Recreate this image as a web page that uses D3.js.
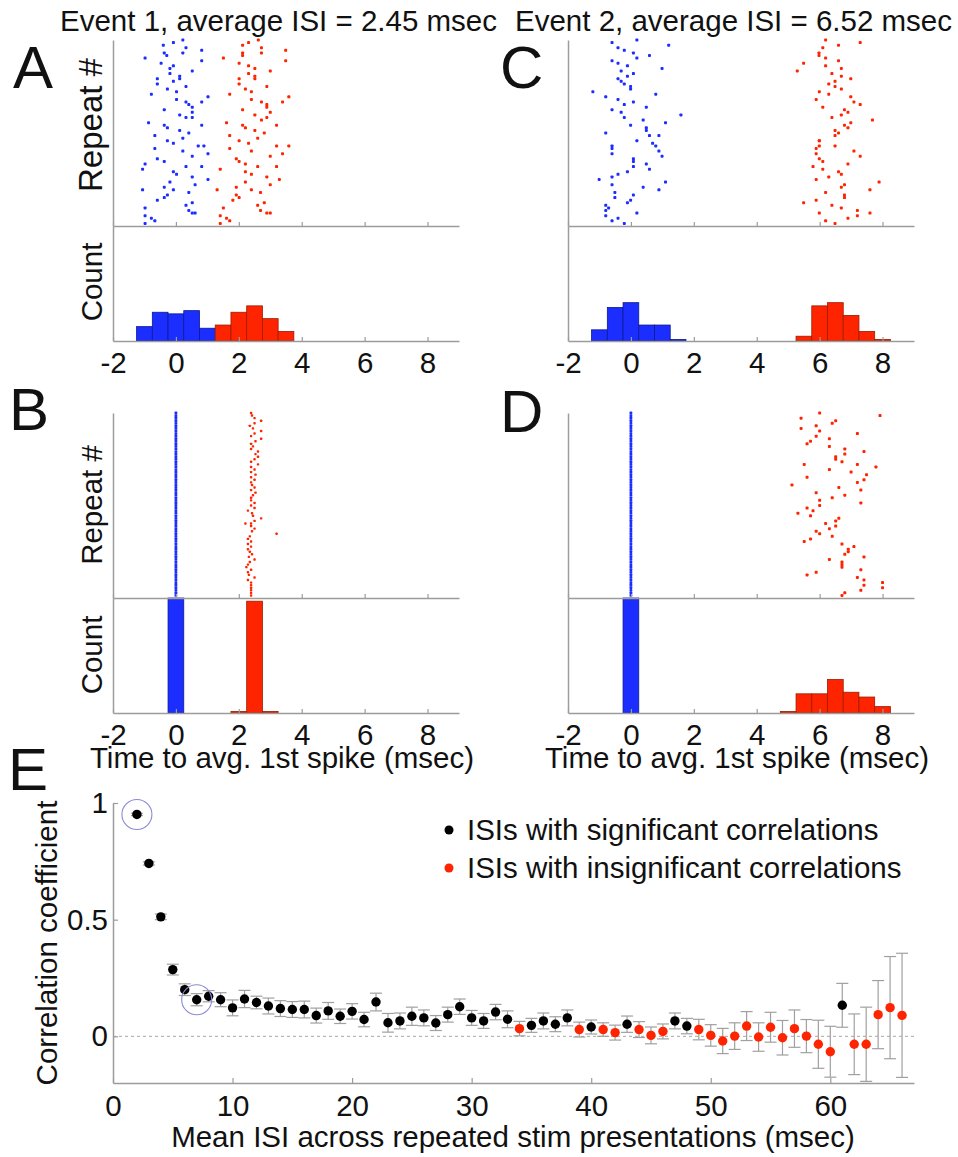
<!DOCTYPE html>
<html><head><meta charset="utf-8">
<script src="https://cdn.jsdelivr.net/npm/d3@7"></script>
<style>body{margin:0;background:#fff}svg{display:block}</style>
</head><body>
<svg id="fig" width="958" height="1157"></svg>
<script>
// ---------------- DATA ----------------
const timeDomain = [-2, 9];
const timeTicks = [-2, 0, 2, 4, 6, 8];
const nRepeats = 72;
const binWidth = 0.5;
const titles = ["Event 1, average ISI = 2.45 msec", "Event 2, average ISI = 6.52 msec"];

// raster points: [time to avg. 1st spike (ms), repeat #]
const rasterA_blue = [[-0.40,2],[-0.08,1],[0.22,0],[0.32,3],[0.82,4],[0.22,5],[-0.37,5],[-0.29,6],
[-0.98,7],[0.82,8],[-0.47,9],[-0.08,10],[-0.19,11],[0.52,12],[-0.19,13],[0.12,14],[0.12,15],[-0.59,15],
[-0.08,16],[-0.59,17],[0.32,18],[-0.27,19],[0.02,20],[-0.78,21],[1.02,22],[0.02,23],[0.82,24],[0.32,24],
[0.41,25],[0.52,26],[-0.37,27],[0.52,28],[0.12,29],[0.32,30],[0.52,30],[-0.87,32],[-0.37,33],[0.82,33],
[-0.27,34],[0.12,35],[0.41,36],[-0.67,37],[0.22,38],[-0.27,39],[-0.08,40],[0.71,41],[0.89,41],[-0.67,42],
[0.22,43],[1.02,44],[0.52,45],[-0.59,46],[-0.37,47],[-0.98,48],[0.82,49],[0.32,49],[-1.06,50],[-0.08,51],
[0.02,52],[0.52,53],[1.02,54],[-0.19,55],[0.61,56],[-0.37,57],[-0.08,58],[-1.06,58],[0.41,59],[-0.27,60],
[-0.37,61],[-0.59,62],[0.52,63],[0.32,64],[-0.98,65],[0.41,66],[0.52,67],[0.61,67],[-0.98,68],[-0.78,69],
[-0.67,70],[-0.98,71]];
const rasterA_red = [[2.31,1],[2.62,0],[2.12,2],[2.72,3],[3.49,4],[2.72,5],[2.12,5],[2.12,6],[1.51,7],[3.49,8],[2.01,9],[2.31,10],
[2.51,11],[3.00,12],[2.31,13],[2.51,14],[2.51,15],[2.01,15],[2.01,17],[2.89,18],[2.21,19],[2.40,20],[1.71,21],
[3.59,22],[2.40,23],[3.39,24],[2.72,24],[2.89,25],[2.89,26],[2.12,27],[3.00,28],[2.51,29],[2.89,30],[2.72,31],
[1.61,32],[2.12,33],[3.20,33],[2.21,34],[2.51,35],[2.81,36],[1.71,37],[2.60,38],[2.01,39],[2.31,40],[3.20,41],
[3.59,41],[1.71,42],[2.40,43],[3.39,44],[3.00,45],[1.92,46],[2.01,47],[2.21,48],[3.20,49],[2.60,49],[1.41,50],
[2.21,51],[2.40,52],[2.89,53],[3.29,54],[2.21,55],[3.00,56],[1.92,57],[2.40,58],[1.31,58],[2.69,59],[1.92,60],
[2.01,61],[1.81,62],[2.81,63],[2.60,64],[1.51,65],[2.69,66],[2.89,67],[3.00,67],[1.41,68],[1.61,69],[1.71,70],[1.41,71]];

const rasterC_blue = [[-0.60,1],[0.19,0],[1.20,2],[-0.41,3],[-0.21,4],[0.08,5],[0.59,6],[0.19,7],[-0.60,8],[-0.41,9],[-0.11,10],[0.99,11],
[-0.31,12],[0.08,13],[-0.11,14],[-0.41,15],[-0.31,16],[-0.21,17],[-0.01,18],[-0.01,19],[-1.21,20],[0.79,21],
[-0.80,22],[-0.41,23],[0.08,24],[-0.21,25],[0.49,26],[-0.60,27],[-0.31,28],[1.59,29],[-0.21,30],[0.39,31],
[1.10,32],[-0.01,33],[0.49,34],[0.49,35],[-0.80,36],[0.59,37],[0.89,37],[0.19,39],[0.69,40],[0.79,41],
[-0.60,41],[-0.60,42],[0.89,43],[-0.60,44],[0.99,45],[0.08,46],[0.08,47],[0.49,48],[0.08,49],[0.59,50],
[-0.11,51],[-0.41,52],[-0.60,53],[-1.01,54],[1.10,55],[-0.60,56],[0.39,57],[0.89,58],[-0.51,59],[0.08,60],
[-0.51,61],[-0.01,62],[-0.11,63],[-0.80,64],[-0.71,65],[-0.80,66],[0.19,67],[-0.80,68],[-0.41,69],[-0.60,70],[-0.21,71]];
const rasterC_red = [[6.19,0],[7.29,1],[6.60,2],[6.10,3],[5.98,5],[5.98,6],[6.19,7],[6.60,8],[5.49,9],[6.19,10],[6.69,11],[5.29,12],
[6.39,13],[6.69,14],[6.99,15],[6.49,16],[6.29,17],[6.49,18],[6.69,19],[5.99,20],[6.29,21],[6.99,22],[5.89,23],
[7.09,24],[7.29,25],[6.10,26],[6.79,27],[6.90,28],[6.69,29],[6.39,30],[7.68,31],[6.99,32],[6.79,33],[6.90,34],
[6.49,35],[6.60,36],[6.49,37],[5.99,39],[5.99,39],[6.49,41],[5.99,41],[5.89,42],[7.09,43],[5.89,44],[7.29,45],
[5.99,46],[6.10,47],[6.90,48],[5.79,49],[6.10,50],[6.60,51],[6.69,52],[6.29,53],[5.89,54],[7.89,55],[6.79,56],
[6.69,57],[7.60,58],[6.19,59],[6.79,60],[6.79,61],[5.89,62],[5.49,63],[6.39,64],[6.69,65],[7.20,66],[5.99,67],
[7.60,67],[7.20,68],[6.90,69],[6.19,70],[6.49,71]];

// B and D: first spike aligned exactly (one value per repeat)
const rasterB_blueTimes = [0,0,0,0,0,0,0,0,0,0,0,0,0,0,0,0,0,0,0,0,0,0,0,0,0,0,0,0,0,0,0,0,0,0,0,0,
0,0,0,0,0,0,0,0,0,0,0,0,0,0,0,0,0,0,0,0,0,0,0,0,0,0,0,0,0,0,0,0,0,0,0,0];
const rasterB_red = [[2.39,0],[2.42,1],[2.50,2],[2.71,3],[2.50,4],[2.35,5],[2.45,6],[2.71,7],[2.50,8],[2.39,9],[2.71,10],[2.53,11],
[2.39,12],[2.45,13],[2.39,14],[2.61,15],[2.53,16],[2.61,17],[2.50,18],[2.39,19],[2.61,20],[2.39,21],[2.50,22],[2.39,23],
[2.53,24],[2.39,25],[2.50,26],[2.39,27],[2.42,28],[2.50,29],[2.39,30],[2.53,31],[2.45,32],[2.39,33],[2.39,34],[2.50,35],
[2.39,36],[2.50,37],[2.29,38],[2.42,39],[2.45,40],[2.71,41],[2.50,42],[2.21,43],[2.39,43],[2.39,44],[2.50,45],[2.42,46],[3.20,47],
[2.35,48],[2.29,49],[2.39,50],[2.29,51],[2.39,52],[2.29,53],[2.35,54],[2.42,55],[2.32,56],[2.50,57],[2.35,58],[2.29,59],
[2.24,60],[2.39,61],[2.29,62],[2.32,63],[2.50,64],[2.29,65],[2.39,66],[2.39,67],[2.39,68],[2.39,69],[2.39,70],[2.39,71]];
const rasterD_blueTimes = [0,0,0,0,0,0,0,0,0,0,0,0,0,0,0,0,0,0,0,0,0,0,0,0,0,0,0,0,0,0,0,0,0,0,0,0,
0,0,0,0,0,0,0,0,0,0,0,0,0,0,0,0,0,0,0,0,0,0,0,0,0,0,0,0,0,0,0,0,0,0,0,0];
const rasterD_red = [[6.00,0],[7.92,1],[5.41,2],[6.51,3],[6.40,4],[5.89,5],[5.41,6],[6.00,7],[7.20,8],[5.89,9],[6.31,10],[5.71,11],
[5.60,12],[6.31,13],[6.80,14],[7.41,15],[6.80,16],[6.51,17],[6.51,18],[6.71,19],[7.20,20],[5.51,20],[7.79,21],[6.31,22],
[7.00,23],[7.49,24],[5.60,25],[7.41,26],[7.20,27],[5.12,28],[6.61,29],[7.31,30],[5.89,31],[6.80,32],[6.40,33],[6.00,34],
[7.31,35],[6.00,36],[5.60,37],[5.79,38],[5.31,39],[5.71,40],[6.61,41],[6.51,42],[6.19,43],[6.51,44],[6.31,45],[5.89,46],
[6.00,47],[6.40,48],[5.71,49],[5.51,50],[6.71,51],[7.09,52],[6.91,53],[6.91,54],[6.80,55],[7.41,56],[6.31,57],[6.71,58],
[6.71,59],[6.71,60],[7.31,61],[5.89,62],[5.60,63],[7.20,64],[7.41,65],[8.00,66],[7.41,67],[8.00,68],[7.31,69],[6.80,70],[6.71,71]];

// histograms (bin centres in ms, counts)
const histA_blueCenters = [-1, -0.5, 0, 0.5, 1];
const histA_blueCounts  = [9, 18, 17, 19, 8];
const histA_redCenters  = [1.5, 2, 2.5, 3, 3.5];
const histA_redCounts   = [10, 18, 22, 14, 6];
const histC_blueCenters = [-1, -0.5, 0, 0.5, 1, 1.5];
const histC_blueCounts  = [7, 21, 24, 10, 10, 1];
const histC_redCenters  = [5.5, 6, 6.5, 7, 7.5, 8];
const histC_redCounts   = [3, 22, 24, 16, 6, 1];
const histB_blueCenters = [0];
const histB_blueCounts  = [72];
const histB_redCenters  = [2, 2.5, 3];
const histB_redCounts   = [1, 70, 1];
const histD_blueCenters = [0];
const histD_blueCounts  = [72];
const histD_redCenters  = [5, 5.5, 6, 6.5, 7, 7.5, 8];
const histD_redCounts   = [1, 12, 12, 21, 13, 10, 4];

// panel E
const isiTicks = [0, 10, 20, 30, 40, 50, 60];
const corrTicks = [0, 0.5, 1];
const meanISI = [2,3,4,5,6,7,8,9,10,11,12,13,14,15,16,17,18,19,20,21,22,23,24,25,26,27,28,29,30,31,32,33,34,
35,36,37,38,39,40,41,42,43,44,45,46,47,48,49,50,51,52,53,54,55,56,57,58,59,60,61,62,63,64,65,66];
const corrCoef = [0.951,0.741,0.512,0.286,0.200,0.157,0.172,0.157,0.122,0.160,0.145,0.130,0.119,0.115,0.115,0.089,
0.109,0.086,0.107,0.072,0.147,0.058,0.066,0.086,0.079,0.057,0.093,0.127,0.079,0.066,0.104,0.073,0.033,
0.047,0.066,0.052,0.079,0.029,0.040,0.029,0.016,0.052,0.029,0.004,0.021,0.066,0.044,0.029,0.004,-0.020,
0.001,0.044,-0.003,0.039,-0.006,0.033,0.001,-0.034,-0.066,0.133,-0.034,-0.034,0.093,0.123,0.090];
const corrErr = [0.005,0.007,0.012,0.023,0.025,0.026,0.024,0.030,0.034,0.037,0.027,0.034,0.034,0.034,0.036,0.032,
0.036,0.031,0.033,0.031,0.038,0.040,0.034,0.039,0.034,0.032,0.032,0.033,0.032,0.032,0.033,0.036,0.031,
0.030,0.034,0.032,0.034,0.032,0.030,0.029,0.032,0.035,0.034,0.036,0.032,0.034,0.033,0.044,0.046,0.054,
0.057,0.062,0.061,0.064,0.074,0.080,0.071,0.103,0.109,0.094,0.130,0.159,0.146,0.219,0.266];
const significant = [1,1,1,1,1,1,1,1,1,1,1,1,1,1,1,1,1,1,1,1,1,1,1,1,1,1,1,1,1,1,1,1,0,
1,1,1,1,0,1,0,0,1,0,0,0,1,1,0,0,0,0,0,0,0,0,0,0,0,0,1,0,0,0,0,0];
const highlightedISI = [2, 7];
const legendLabels = ["ISIs with significant correlations", "ISIs with insignificant correlations"];

// ---------------- DRAWING ----------------
const FONT = '"Liberation Sans", Arial, Helvetica, sans-serif';
const FS = 29.5;
const BLUE = '#1b2eff', BLUE_EDGE = '#0c1a8f';
const RED = '#ff2400', RED_EDGE = '#9a1c00';
const AX = '#9c9c9c', TXT = '#111';
const plainNum = d => String(d);

const svg = d3.select('#fig');
svg.append('rect').attr('width', 958).attr('height', 1157).attr('fill', '#fff');

function label(x, y, str, size, anchor, rotate) {
  const t = svg.append('text').attr('font-family', FONT).attr('font-size', size)
    .attr('fill', TXT).attr('text-anchor', anchor || 'start').text(str);
  if (rotate) t.attr('transform', `translate(${x},${y}) rotate(-90)`);
  else t.attr('x', x).attr('y', y);
  return t;
}
function styleAxis(g) {
  g.attr('color', AX).attr('font-family', FONT).attr('font-size', FS);
  g.select('.domain').attr('stroke-width', 1.5);
  g.selectAll('.tick line').attr('stroke-width', 1.2);
  g.selectAll('.tick text').attr('fill', TXT);
}

function timePanel(cfg) {
  const x = d3.scaleLinear().domain(timeDomain).range([cfg.x0, cfg.x0 + 346]);
  const yR = d3.scaleLinear().domain([0, nRepeats]).range([cfg.top, cfg.sep]);
  const yH = d3.scaleLinear().domain([0, nRepeats]).range([cfg.bottom, cfg.sep]);
  const g = svg.append('g');

  const bars = (centers, counts, fill, edge) => {
    g.append('g').selectAll('rect').data(centers.map((c, i) => [c, counts[i]])).join('rect')
      .attr('x', d => x(d[0] - binWidth / 2)).attr('width', d => x(d[0] + binWidth / 2) - x(d[0] - binWidth / 2))
      .attr('y', d => yH(d[1])).attr('height', d => yH(0) - yH(d[1]))
      .attr('fill', fill).attr('stroke', edge).attr('stroke-width', 0.8);
  };
  bars(cfg.hbC, cfg.hbN, BLUE, BLUE_EDGE);
  bars(cfg.hrC, cfg.hrN, RED, RED_EDGE);

  const dots = (pts, color, s) => {
    g.append('g').selectAll('rect').data(pts).join('rect')
      .attr('x', d => x(d[0]) - s / 2).attr('y', d => yR(d[1]) - s / 2)
      .attr('width', s).attr('height', s).attr('rx', s * 0.3).attr('fill', color);
  };
  dots(cfg.blue, BLUE, cfg.bs);
  dots(cfg.red, RED, cfg.rs);

  const ra = g.append('g').attr('transform', `translate(0,${cfg.sep})`)
    .call(d3.axisBottom(x).tickValues(timeTicks).tickSize(-4).tickSizeOuter(0).tickFormat(''));
  styleAxis(ra);
  const ha = g.append('g').attr('transform', `translate(0,${cfg.bottom})`)
    .call(d3.axisBottom(x).tickValues(timeTicks).tickSize(-4).tickSizeOuter(0).tickPadding(11).tickFormat(plainNum));
  styleAxis(ha);
  const la1 = g.append('g').attr('transform', `translate(${cfg.x0},0)`)
    .call(d3.axisLeft(yR).tickValues([]).tickSizeOuter(0));
  styleAxis(la1);
  const la2 = g.append('g').attr('transform', `translate(${cfg.x0},0)`)
    .call(d3.axisLeft(yH).tickValues([]).tickSizeOuter(0));
  styleAxis(la2);
}

const withIndex = arr => arr.map((t, i) => [t, i]);

timePanel({x0: 113, top: 40, sep: 226, bottom: 341, blue: rasterA_blue, red: rasterA_red, bs: 3, rs: 3,
  hbC: histA_blueCenters, hbN: histA_blueCounts, hrC: histA_redCenters, hrN: histA_redCounts});
timePanel({x0: 568, top: 40, sep: 226, bottom: 341, blue: rasterC_blue, red: rasterC_red, bs: 3, rs: 3,
  hbC: histC_blueCenters, hbN: histC_blueCounts, hrC: histC_redCenters, hrN: histC_redCounts});
timePanel({x0: 113, top: 413, sep: 598, bottom: 713, blue: withIndex(rasterB_blueTimes), red: rasterB_red, bs: 2.8, rs: 2.4,
  hbC: histB_blueCenters, hbN: histB_blueCounts, hrC: histB_redCenters, hrN: histB_redCounts});
timePanel({x0: 568, top: 413, sep: 598, bottom: 713, blue: withIndex(rasterD_blueTimes), red: rasterD_red, bs: 2.8, rs: 3,
  hbC: histD_blueCenters, hbN: histD_blueCounts, hrC: histD_redCenters, hrN: histD_redCounts});

// titles & labels
label(60, 31, titles[0], FS);
label(515, 31, titles[1], FS);
label(13, 88, 'A', 60);
label(500, 88, 'C', 60);
label(9, 430, 'B', 60);
label(500, 432, 'D', 60);
label(8, 790, 'E', 60);
label(102, 125, 'Repeat #', 33, 'middle', true);
label(102, 282, 'Count', FS, 'middle', true);
label(102, 505, 'Repeat #', FS, 'middle', true);
label(102, 655, 'Count', FS, 'middle', true);
label(282, 768, 'Time to avg. 1st spike (msec)', FS, 'middle');
label(737, 768, 'Time to avg. 1st spike (msec)', FS, 'middle');

// ---------------- PANEL E ----------------
const xE = d3.scaleLinear().domain([0, 67]).range([113, 914]);
const yE = d3.scaleLinear().domain([-0.2, 1]).range([1083, 803]);
const gE = svg.append('g');
gE.append('line').attr('x1', xE(0)).attr('x2', xE(67)).attr('y1', yE(0)).attr('y2', yE(0))
  .attr('stroke', '#a8a8a8').attr('stroke-width', 1).attr('stroke-dasharray', '3,3');

const pts = meanISI.map((m, i) => ({m, c: corrCoef[i], e: corrErr[i], s: significant[i]}));
const eb = gE.append('g').attr('stroke', '#a0a0a0').attr('stroke-width', 1.2);
eb.selectAll('line.v').data(pts).join('line').attr('class', 'v')
  .attr('x1', d => xE(d.m)).attr('x2', d => xE(d.m)).attr('y1', d => yE(d.c - d.e)).attr('y2', d => yE(d.c + d.e));
eb.selectAll('line.t').data(pts).join('line').attr('class', 't')
  .attr('x1', d => xE(d.m) - 6).attr('x2', d => xE(d.m) + 6).attr('y1', d => yE(d.c + d.e)).attr('y2', d => yE(d.c + d.e));
eb.selectAll('line.b').data(pts).join('line').attr('class', 'b')
  .attr('x1', d => xE(d.m) - 6).attr('x2', d => xE(d.m) + 6).attr('y1', d => yE(d.c - d.e)).attr('y2', d => yE(d.c - d.e));
gE.selectAll('circle.pt').data(pts).join('circle').attr('class', 'pt')
  .attr('cx', d => xE(d.m)).attr('cy', d => yE(d.c)).attr('r', 4.7)
  .attr('fill', d => d.s ? '#000' : RED);

gE.selectAll('circle.hl').data(highlightedISI).join('circle').attr('class', 'hl')
  .attr('cx', d => xE(d)).attr('cy', d => yE(corrCoef[meanISI.indexOf(d)]))
  .attr('r', 15).attr('fill', 'none').attr('stroke', '#8a8ad8').attr('stroke-width', 1.1);

const xa = gE.append('g').attr('transform', `translate(0,${yE(-0.2)})`)
  .call(d3.axisBottom(xE).tickValues(isiTicks).tickSize(-5).tickSizeOuter(0).tickPadding(12).tickFormat(plainNum));
styleAxis(xa);
const ya = gE.append('g').attr('transform', `translate(${xE(0)},0)`)
  .call(d3.axisLeft(yE).tickValues(corrTicks).tickSize(-5).tickSizeOuter(0).tickPadding(5).tickFormat(plainNum));
styleAxis(ya);

// legend
[['#000', 830], [RED, 868]].forEach((d, i) => {
  svg.append('circle').attr('cx', 449).attr('cy', d[1]).attr('r', 4.5).attr('fill', d[0]);
  label(467, d[1], legendLabels[i], FS).attr('dy', '0.35em');
});

label(57, 943, 'Correlation coefficient', FS, 'middle', true);
label(513, 1147, 'Mean ISI across repeated stim presentations (msec)', FS, 'middle');
</script>
</body></html>
